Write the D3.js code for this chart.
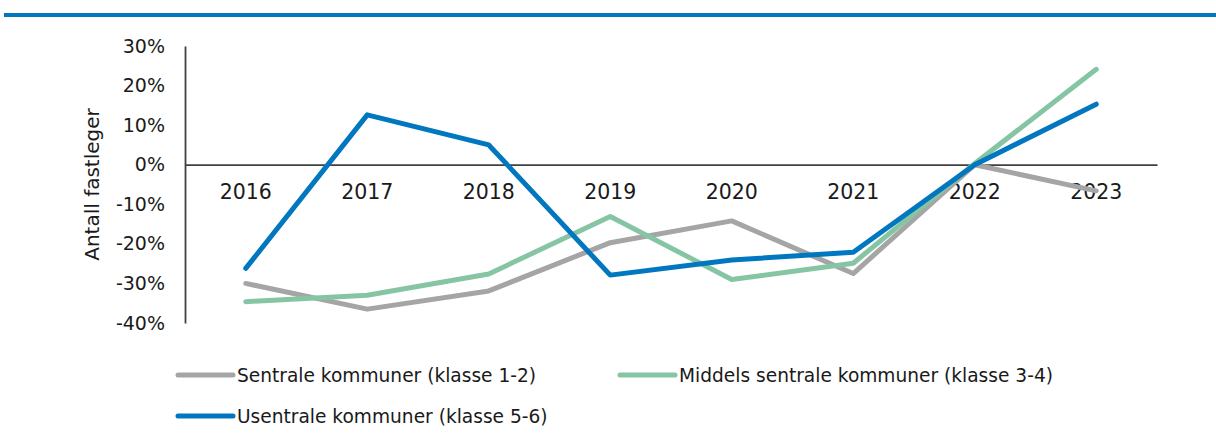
<!DOCTYPE html>
<html>
<head>
<meta charset="utf-8">
<script src="https://cdn.jsdelivr.net/npm/d3@7"></script>
<style>
  html, body { margin: 0; padding: 0; background: #fff; }
  svg { display: block; font-family: "DejaVu Sans", "Noto Sans", sans-serif; }
</style>
</head>
<body>
<svg id="chart" width="1216" height="443"></svg>
<script>
// Year categories on the x axis
const years = ["2016", "2017", "2018", "2019", "2020", "2021", "2022", "2023"];

// Change in number of GPs (%) per municipality group
const sentrale = [-30.0, -36.5, -31.9, -19.7, -14.2, -27.5, 0.0, -6.6];
const middels = [-34.6, -33.0, -27.6, -13.1, -29.0, -24.9, 0.3, 24.1];
const usentrale = [-26.2, 12.6, 5.0, -27.9, -24.1, -22.1, 0.0, 15.3];

const seriesNames = [
  "Sentrale kommuner (klasse 1-2)",
  "Middels sentrale kommuner (klasse 3-4)",
  "Usentrale kommuner (klasse 5-6)"
];
const seriesColors = ["#a5a5a5", "#86c5a4", "#0077be"];
const yTicks = [30, 20, 10, 0, -10, -20, -30, -40];

const series = [sentrale, middels, usentrale].map((vals, i) => ({
  name: seriesNames[i],
  color: seriesColors[i],
  values: vals
}));

const svg = d3.select("#chart");
const textColor = "#1a1a1a";

// Top rule
svg.append("rect")
  .attr("x", 4).attr("y", 13)
  .attr("width", 1212).attr("height", 4)
  .attr("fill", "#0077be");

const x = d3.scaleBand().domain(years).range([185, 1157]);
const y = d3.scaleLinear().domain([-40, 30]).range([323, 46]);

// Y axis with percentage labels
const yAxis = svg.append("g")
  .attr("transform", "translate(185,0)")
  .call(d3.axisLeft(y).tickValues(yTicks).tickSize(0).tickPadding(20)
    .tickFormat(d => d + "%"));
yAxis.select(".domain").attr("stroke", "#404040").attr("stroke-width", 1.8);
yAxis.selectAll("text")
  .attr("fill", textColor)
  .style("font-size", "19px")
  .style("font-family", "DejaVu Sans");

// Zero baseline with year labels beneath it
const xAxis = svg.append("g")
  .attr("transform", `translate(0,${y(0)})`)
  .call(d3.axisBottom(x).tickSize(0).tickPadding(20));
xAxis.select(".domain").attr("stroke", "#404040").attr("stroke-width", 1.8);
xAxis.selectAll("text")
  .attr("fill", textColor)
  .style("font-size", "20.5px")
  .style("font-family", "DejaVu Sans");

// Axis title
svg.append("text")
  .attr("transform", `translate(99,${(46 + 323) / 2}) rotate(-90)`)
  .attr("text-anchor", "middle")
  .attr("fill", textColor)
  .style("font-size", "20px")
  .text("Antall fastleger");

// Series lines
const line = d3.line()
  .x((d, i) => x(years[i]) + x.bandwidth() / 2)
  .y(d => y(d));

svg.append("g").selectAll("path")
  .data(series)
  .join("path")
  .attr("d", d => line(d.values))
  .attr("fill", "none")
  .attr("stroke", d => d.color)
  .attr("stroke-width", 5)
  .attr("stroke-linecap", "round")
  .attr("stroke-linejoin", "round");

// Legend
const legendPos = [[178, 375], [620, 375], [178, 416]];
const legend = svg.append("g").selectAll("g")
  .data(series)
  .join("g")
  .attr("transform", (d, i) => `translate(${legendPos[i][0]},${legendPos[i][1]})`);
legend.append("line")
  .attr("x1", 0).attr("x2", 55)
  .attr("y1", 0).attr("y2", 0)
  .attr("stroke", d => d.color)
  .attr("stroke-width", 5)
  .attr("stroke-linecap", "round");
legend.append("text")
  .attr("x", 59).attr("y", 7)
  .attr("fill", textColor)
  .style("font-size", "18.6px")
  .text(d => d.name);
</script>
</body>
</html>
